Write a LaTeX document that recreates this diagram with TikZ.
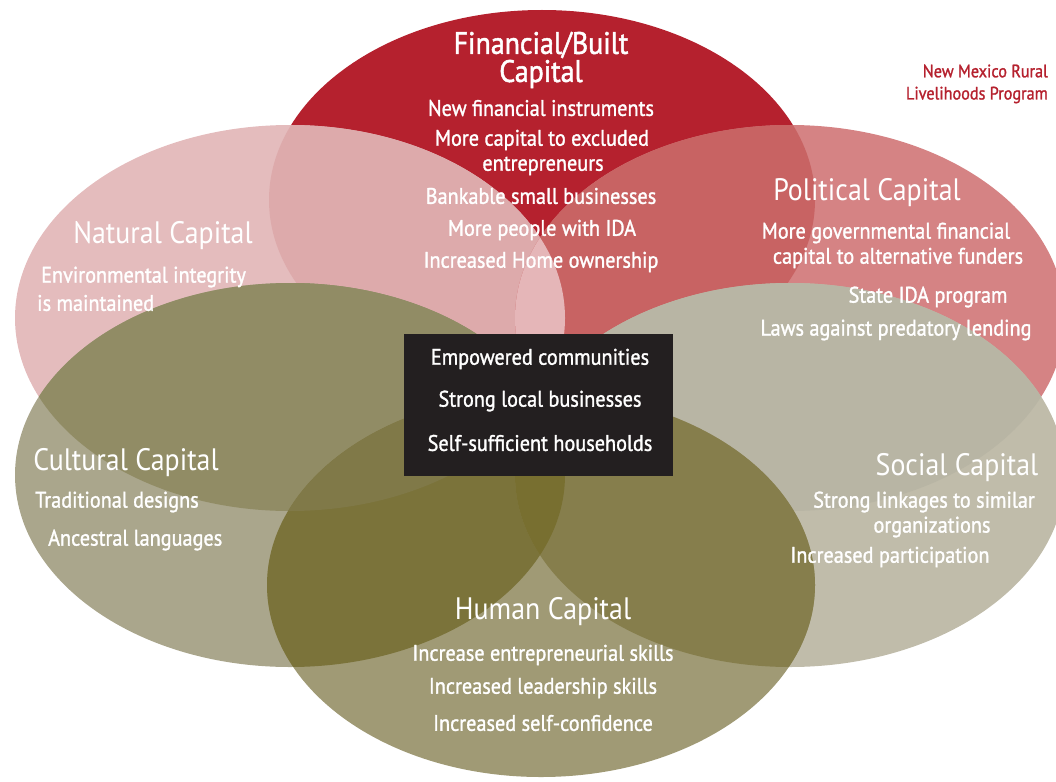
\documentclass[tikz,border=0pt]{standalone}
\usepackage{fontspec}
\setmainfont{PT Sans}[FakeStretch=0.9]
\newfontfamily\semib{PT Sans}[FakeStretch=0.9, FakeBold=1.3]
\newfontfamily\titlebold{PT Sans}[FakeStretch=0.9, FakeBold=1.6]
\definecolor{cF}{HTML}{B5212E}
\definecolor{cN}{HTML}{E4BCBD}
\definecolor{cP}{HTML}{D58384}
\definecolor{cFN}{HTML}{DDAAAB}
\definecolor{cFP}{HTML}{C86363}
\definecolor{cNP}{HTML}{E5B6B8}
\definecolor{cC}{HTML}{AAA68C}
\definecolor{cCN}{HTML}{918C65}
\definecolor{cS}{HTML}{C0BCAA}
\definecolor{cSP}{HTML}{B8B5A4}
\definecolor{cH}{HTML}{A09A75}
\definecolor{cHC}{HTML}{7B733A}
\definecolor{cHS}{HTML}{867E4C}
\definecolor{cHCS}{HTML}{786F30}
\definecolor{cHCN}{HTML}{807948}
\definecolor{cBox}{HTML}{231F20}
\newcommand\ellF{(542,200) ellipse [x radius=273, y radius=190]}
\newcommand\ellN{(290,318) ellipse [x radius=275, y radius=193]}
\newcommand\ellP{(790,318) ellipse [x radius=275, y radius=193]}
\newcommand\ellC{(290,475) ellipse [x radius=275, y radius=192]}
\newcommand\ellS{(790,475) ellipse [x radius=275, y radius=192]}
\newcommand\ellH{(541,585) ellipse [x radius=274, y radius=192]}
\begin{document}
\begin{tikzpicture}[x=1pt,y=-1pt,
  title/.style={text=white, font=\fontsize{31}{31}\selectfont, inner sep=0pt},
  ftitle/.style={text=white, font=\titlebold\fontsize{31}{31}\selectfont, inner sep=0pt},
  item/.style={text=white, font=\semib\fontsize{22.5}{22.5}\selectfont, inner sep=0pt},
  brand/.style={text=cF, font=\semib\fontsize{18}{18}\selectfont, inner sep=0pt, anchor=east}]
\useasboundingbox (0,0) rectangle (1056,781);
\clip (0,0) rectangle (1056,781);
% layers
\fill[cF] \ellF;
\fill[cN] \ellN;
\fill[cP] \ellP;
\begin{scope}\clip \ellF; \fill[cFN] \ellN; \fill[cFP] \ellP; \end{scope}
\begin{scope}\clip \ellN; \fill[cNP] \ellP; \end{scope}
\fill[cC] \ellC;
\begin{scope}\clip \ellC; \fill[cCN] \ellN; \fill[cCN] \ellF; \end{scope}
\fill[cS] \ellS;
\begin{scope}\clip \ellS; \fill[cSP] \ellP; \end{scope}
\fill[cH] \ellH;
\begin{scope}\clip \ellH; \fill[cHC] \ellC; \fill[cHS] \ellS; \end{scope}
\begin{scope}\clip \ellH; \clip \ellC; \fill[cHCS] \ellS; \fill[cHCN] \ellN; \end{scope}
% central box
\node[fill=cBox, minimum width=269pt, minimum height=142pt, inner sep=0pt] (core) at (538.5,405) {};
\node[item] (core1) at (540,359) {Empowered communities};
\node[item] (core2) at (540,401) {Strong local businesses};
\node[item] (core3) at (540,443) {Self-sufficient households};
% financial
\node[ftitle] (ft1) at (541,45) {Financial/Built};
\node[ftitle] (ft2) at (541,74) {Capital};
\node[item] (f1) at (541,108) {New financial instruments};
\node[item] (f2) at (542,140) {More capital to excluded};
\node[item] (f3) at (543,166) {entrepreneurs};
\node[item] (f4) at (541,196) {Bankable small businesses};
\node[item] (f5) at (542,230) {More people with IDA};
\node[item] (f6) at (541,262) {Increased Home ownership};
% brand
\node[brand] (b1) at (1048,71) {New Mexico Rural};
\node[brand] (b2) at (1048,95) {Livelihoods Program};
% natural
\node[title] (nt) at (163,236) {Natural Capital};
\node[item, anchor=west] (n1) at (41,277) {Environmental integrity};
\node[item, anchor=west] (n2) at (37,303) {is maintained};
% political
\node[title] (pt) at (867,193) {Political Capital};
\node[item] (p1) at (886,233) {More governmental financial};
\node[item] (p2) at (898,258) {capital to alternative funders};
\node[item] (p3) at (928,297) {State IDA program};
\node[item] (p4) at (896,330) {Laws against predatory lending};
% cultural
\node[title] (ct) at (126,463) {Cultural Capital};
\node[item, anchor=west] (c1) at (35,502) {Traditional designs};
\node[item, anchor=west] (c2) at (48,540) {Ancestral languages};
% social
\node[title] (st) at (957,468) {Social Capital};
\node[item] (s1) at (924,502) {Strong linkages to similar};
\node[item] (s2) at (932,527) {organizations};
\node[item] (s3) at (890,557) {Increased participation};
% human
\node[title] (ht) at (543,612) {Human Capital};
\node[item] (h1) at (543,655) {Increase entrepreneurial skills};
\node[item] (h2) at (543,688) {Increased leadership skills};
\node[item] (h3) at (543,723) {Increased self-confidence};
\end{tikzpicture}
\end{document}
